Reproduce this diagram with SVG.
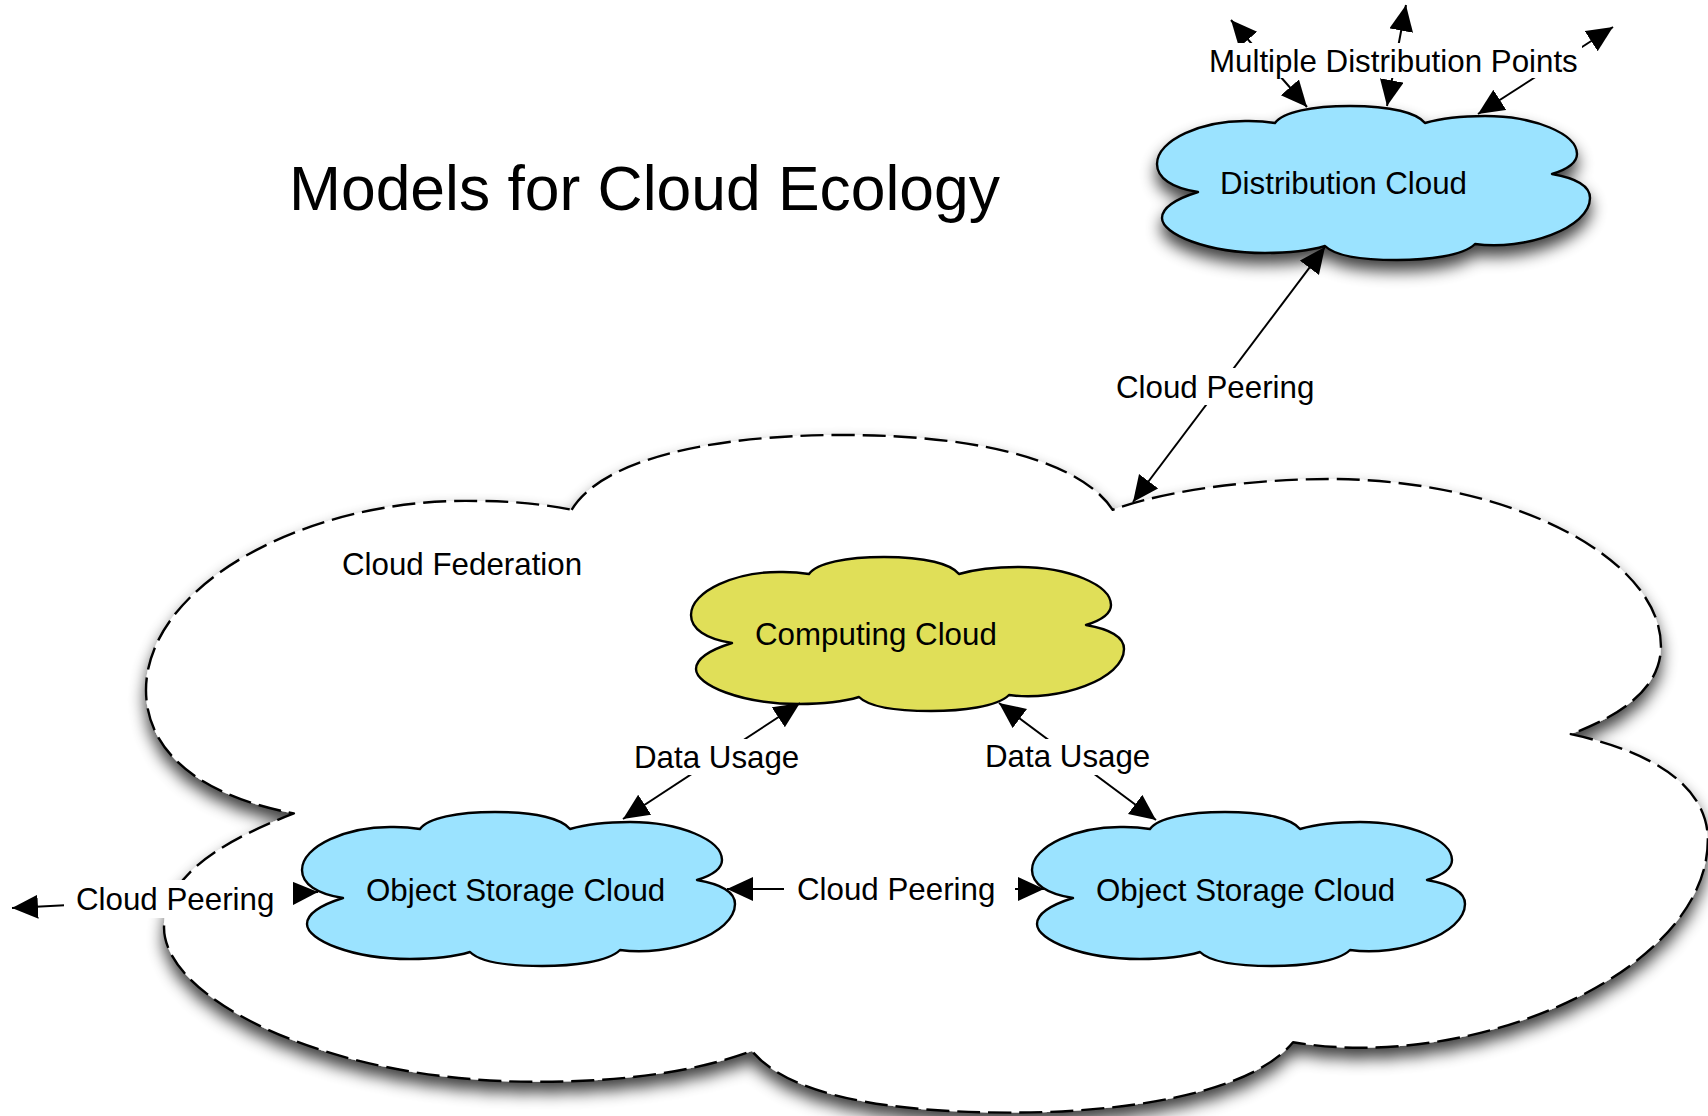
<svg xmlns="http://www.w3.org/2000/svg" width="1708" height="1116" viewBox="0 0 1708 1116">
<style>
text{font-family:"Liberation Sans",Arial,sans-serif;font-size:31.3px;fill:#000}
.title{font-size:62.4px}
.shape{stroke:#000;stroke-width:2.4;stroke-linejoin:round}
.fed{fill:#fff;stroke-dasharray:23 8}
.blue{fill:#9be3ff}
.yellow{fill:#e0df58}
.conn line{stroke:#000;stroke-width:2}
.bg{fill:#fff}
</style>
<defs>
<path id="cloud" vector-effect="non-scaling-stroke" d="M118,17 C126,6 155,0 193,0 C235,0 260,7 268,17 C285,12 310,10 328,10 C378,10 420,28 420,48 C420,58 408,64 395,68 C418,72 433,80 433,92 C433,122 368,145 318,138 C306,150 270,154 240,154 C205,154 178,150 168,140 C148,146 125,147 108,147 C50,147 5,128 5,112 C5,100 22,92 41,86 C15,82 0,72 0,58 C0,34 45,14 92,15 C103,15 112,16 118,17 Z"/>
<filter id="shadow" x="-10%" y="-10%" width="120%" height="130%">
<feGaussianBlur in="SourceAlpha" stdDeviation="8"/>
<feOffset dy="10"/>
<feComponentTransfer><feFuncA type="linear" slope="0.75"/></feComponentTransfer>
<feMerge><feMergeNode/><feMergeNode in="SourceGraphic"/></feMerge>
</filter>
<marker id="head" markerUnits="userSpaceOnUse" markerWidth="28" markerHeight="26" refX="26" refY="12" orient="auto-start-reverse">
<path d="M0,0 L26,12 L0,24 Z" fill="#000"/>
</marker>
</defs>
<rect width="1708" height="1116" fill="#fff"/>
<text class="title" x="289" y="210">Models for Cloud Ecology</text>
<g id="cloud-federation">
<g filter="url(#shadow)"><use href="#cloud" class="shape fed" transform="translate(146,435) scale(3.607,4.4)"/></g>
<text x="342" y="575">Cloud Federation</text>
</g>
<g id="distribution-cloud">
<g filter="url(#shadow)"><use href="#cloud" class="shape blue" transform="translate(1157,106)"/></g>
<text x="1220" y="194">Distribution Cloud</text>
</g>
<g id="computing-cloud">
<use href="#cloud" class="shape yellow" transform="translate(691,557)"/>
<text x="755" y="645">Computing Cloud</text>
</g>
<g id="object-storage-left">
<use href="#cloud" class="shape blue" transform="translate(302,812)"/>
<text x="366" y="901">Object Storage Cloud</text>
</g>
<g id="object-storage-right">
<use href="#cloud" class="shape blue" transform="translate(1032,812)"/>
<text x="1096" y="901">Object Storage Cloud</text>
</g>
<g id="connectors" class="conn">
<line x1="1325" y1="247" x2="1133" y2="502" marker-start="url(#head)" marker-end="url(#head)"/>
<line x1="1231" y1="20" x2="1307" y2="107" marker-start="url(#head)" marker-end="url(#head)"/>
<line x1="1406" y1="5" x2="1387" y2="106" marker-start="url(#head)" marker-end="url(#head)"/>
<line x1="1613" y1="27" x2="1478" y2="114" marker-start="url(#head)" marker-end="url(#head)"/>
<line x1="800" y1="703" x2="623" y2="819" marker-start="url(#head)" marker-end="url(#head)"/>
<line x1="999" y1="703" x2="1156" y2="820" marker-start="url(#head)" marker-end="url(#head)"/>
<line x1="727" y1="889" x2="1044" y2="889" marker-start="url(#head)" marker-end="url(#head)"/>
<line x1="12" y1="908" x2="318" y2="892" marker-start="url(#head)" marker-end="url(#head)"/>
</g>
<g id="label-multiple"><rect class="bg" x="1204" y="43" width="378" height="35"/><text x="1209" y="72">Multiple Distribution Points</text></g>
<g id="label-peering-top"><rect class="bg" x="1107" y="368" width="218" height="37"/><text x="1116" y="398">Cloud Peering</text></g>
<g id="label-usage-left"><rect class="bg" x="625" y="739" width="180" height="36"/><text x="634" y="768">Data Usage</text></g>
<g id="label-usage-right"><rect class="bg" x="978" y="739" width="176" height="36"/><text x="985" y="767">Data Usage</text></g>
<g id="label-peering-mid"><rect class="bg" x="784" y="870" width="231" height="38"/><text x="797" y="900">Cloud Peering</text></g>
<g id="label-peering-left"><rect class="bg" x="64" y="880" width="229" height="38"/><text x="76" y="910">Cloud Peering</text></g>
</svg>
